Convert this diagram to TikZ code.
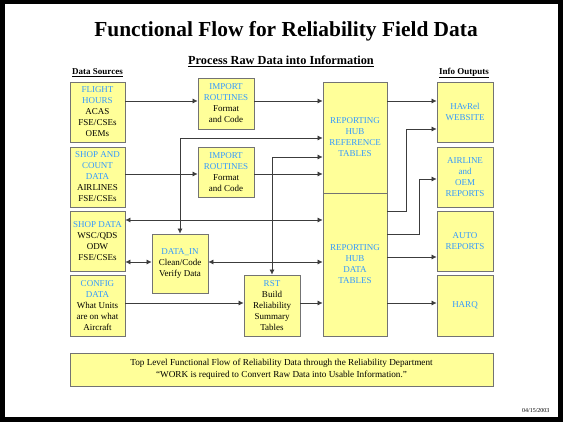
\documentclass[tikz,border=0pt]{standalone}
\usepackage{fontspec}
\setmainfont{Liberation Serif}
\usetikzlibrary{arrows.meta}

\definecolor{boxyellow}{RGB}{255,255,153}
\definecolor{txtblue}{RGB}{51,153,255}
\definecolor{linegray}{RGB}{60,60,60}

\tikzset{
    databox/.style={draw=black!55, line width=0.8pt, fill=boxyellow, align=center,
        inner sep=0pt, font=\fontsize{9}{11}\selectfont},
    flow/.style={draw=linegray, line width=0.6pt, -{Latex[length=5pt,width=5pt]}},
    flowboth/.style={draw=linegray, line width=0.6pt,
        {Latex[length=5pt,width=5pt]}-{Latex[length=5pt,width=5pt]}},
}
\newcommand{\bt}[1]{\textcolor{txtblue}{#1}}

\begin{document}
\begin{tikzpicture}[x=1pt, y=-1pt]

    % Khung nền
    \fill[black] (0,0) rectangle (563,422);
    \fill[white] (5,4) rectangle (558,417);
    \useasboundingbox (0,0) rectangle (563,422);

    % Tiêu đề
    \node[font=\bfseries\fontsize{21.4}{25}\selectfont] (title) at (286,31) {Functional Flow for Reliability Field Data};
    \node[font=\bfseries\fontsize{12.3}{14}\selectfont] (subtitle) at (281,61) {\underline{Process Raw Data into Information}};
    \node[font=\bfseries\fontsize{9}{11}\selectfont] (srclabel) at (97.5,73) {\underline{Data Sources}};
    \node[font=\bfseries\fontsize{9}{11}\selectfont] (outlabel) at (464,73) {\underline{Info Outputs}};

    % Nguồn dữ liệu
    \node[databox, minimum width=55pt, minimum height=60pt] (flight) at (97.5,112) {\bt{FLIGHT}\\\bt{HOURS}\\ACAS\\FSE/CSEs\\OEMs};
    \node[databox, minimum width=55pt, minimum height=60pt] (shopcount) at (97.5,177) {\bt{SHOP AND}\\\bt{COUNT}\\\bt{DATA}\\AIRLINES\\FSE/CSEs};
    \node[databox, minimum width=55pt, minimum height=60pt] (shopdata) at (97.5,241) {\bt{SHOP DATA}\\WSC/QDS\\ODW\\FSE/CSEs};
    \node[databox, minimum width=55pt, minimum height=61pt] (config) at (97.5,305.5) {\bt{CONFIG}\\\bt{DATA}\\What Units\\are on what\\Aircraft};

    % Xử lý
    \node[databox, minimum width=56pt, minimum height=51pt] (imp1) at (226,103.5) {\bt{IMPORT}\\\bt{ROUTINES}\\Format\\and Code};
    \node[databox, minimum width=56pt, minimum height=50pt] (imp2) at (226,172) {\bt{IMPORT}\\\bt{ROUTINES}\\Format\\and Code};
    \node[databox, minimum width=56pt, minimum height=59pt] (datain) at (180,263.5) {\bt{DATA\_IN}\\Clean/Code\\Verify Data};
    \node[databox, minimum width=56pt, minimum height=61pt] (rst) at (272,305.5) {\bt{RST}\\Build\\Reliability\\Summary\\Tables};

    % Reporting hub
    \node[databox, minimum width=64pt, minimum height=111pt] (hubref) at (355,137.5) {\bt{REPORTING}\\\bt{HUB}\\\bt{REFERENCE}\\\bt{TABLES}};
    \node[databox, minimum width=64pt, minimum height=143pt] (hubdata) at (355,264.5) {\bt{REPORTING}\\\bt{HUB}\\\bt{DATA}\\\bt{TABLES}};

    % Đầu ra
    \node[databox, minimum width=56pt, minimum height=60pt] (havrel) at (465,112) {\bt{HAvRel}\\\bt{WEBSITE}};
    \node[databox, minimum width=56pt, minimum height=60pt] (airline) at (465,177) {\bt{AIRLINE}\\\bt{and}\\\bt{OEM}\\\bt{REPORTS}};
    \node[databox, minimum width=56pt, minimum height=60pt] (auto) at (465,241) {\bt{AUTO}\\\bt{REPORTS}};
    \node[databox, minimum width=56pt, minimum height=61pt] (harq) at (465,305.5) {\bt{HARQ}};

    % Ghi chú
    \node[databox, minimum width=423pt, minimum height=33pt, font=\fontsize{9.2}{12}\selectfont] (note) at (281.5,369.5)
        {Top Level Functional Flow of Reliability Data through the Reliability Department\\“WORK is required to Convert Raw Data into Usable Information.”};
    \node[anchor=east, font=\fontsize{6}{7}\selectfont] (date) at (553,411) {04/15/2003};

    % Hàng và cột của đường nối
    \coordinate (r1) at (0,101);
    \coordinate (r2) at (0,138);
    \coordinate (r3) at (0,157);
    \coordinate (r4) at (0,174);
    \coordinate (r5) at (0,220);
    \coordinate (r6) at (0,262);
    \coordinate (r7) at (0,303);
    \coordinate (o1) at (0,129);
    \coordinate (o2) at (0,179);
    \coordinate (o3) at (0,211);
    \coordinate (o4) at (0,234);
    \coordinate (o5) at (0,257);
    \coordinate (c3) at (406,0);
    \coordinate (c4) at (419,0);

    % Đường nối vào hub
    \draw[flow] (flight.east |- r1) -- (imp1.west |- r1);
    \draw[flow] (imp1.east |- r1) -- (hubref.west |- r1);
    \draw[flow] (shopcount.east |- r4) -- (imp2.west |- r4);
    \draw[flow] (imp2.east |- r4) -- (hubref.west |- r4);
    \draw[flowboth] (datain.north) |- (hubref.west |- r2);
    \draw[flowboth] (rst.north) |- (hubref.west |- r3);
    \draw[flowboth] (shopdata.east |- r5) -- (hubdata.west |- r5);
    \draw[flowboth] (shopdata.east |- r6) -- (datain.west |- r6);
    \draw[flowboth] (datain.east |- r6) -- (hubdata.west |- r6);
    \draw[flow] (config.east |- r7) -- (rst.west |- r7);
    \draw[flow] (rst.east |- r7) -- (hubdata.west |- r7);

    % Đường nối ra đầu ra
    \draw[flow] (hubref.east |- r1) -- (havrel.west |- r1);
    \draw[flow] (hubdata.east |- o3) -| (c3 |- o1) -- (havrel.west |- o1);
    \draw[flow] (hubdata.east |- o4) -| (c4 |- o2) -- (airline.west |- o2);
    \draw[flow] (hubdata.east |- o5) -- (auto.west |- o5);
    \draw[flow] (hubdata.east |- r7) -- (harq.west |- r7);

\end{tikzpicture}
\end{document}
